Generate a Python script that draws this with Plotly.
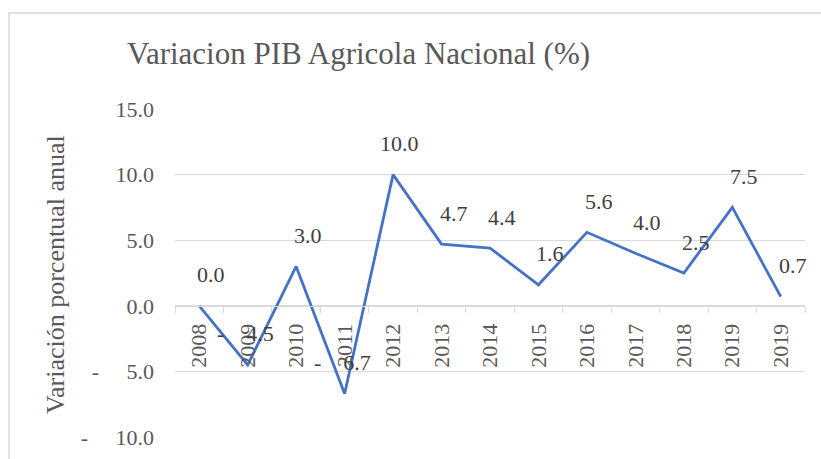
import plotly.graph_objects as go

years = ["2008", "2009", "2010", "2011", "2012", "2013", "2014",
         "2015", "2016", "2017", "2018", "2019", "2019"]
values = [0.0, -4.5, 3.0, -6.7, 10.0, 4.7, 4.4, 1.6, 5.6, 4.0, 2.5, 7.5, 0.7]
y_ticks = [-10, -5, 0, 5, 10, 15]

NB = "\u00a0"
FONT = "Liberation Serif, Tinos, Times New Roman, Times, DejaVu Serif, serif"
GRID = "#D9D9D9"


def acc_fmt(v, pad):
    if v < 0:
        return "-" + NB * pad + f"{abs(v):.1f}"
    return f"{v:.1f}"


xs = list(range(len(years)))

fig = go.Figure()
fig.add_trace(go.Scatter(
    x=xs, y=values, mode="lines",
    line=dict(color="#4472C4", width=2.8),
    hoverinfo="skip", showlegend=False,
))

for x, v in zip(xs, values):
    fig.add_annotation(
        x=x, y=v, text=acc_fmt(v, 4), showarrow=False,
        xanchor="right", yanchor="middle", xshift=28, yshift=31,
        font=dict(family=FONT, size=22, color="#404040"),
    )

fig.add_annotation(
    xref="paper", yref="paper", x=-0.189, y=0.497,
    text="Variación porcentual anual", textangle=-90, showarrow=False,
    xanchor="center", yanchor="middle",
    font=dict(family=FONT, size=26, color="#595959"),
)

# chart border (top & left visible)
fig.add_shape(type="rect", xref="paper", yref="paper",
              x0=-0.2635, y0=-0.3, x1=1.2, y1=1.2927,
              line=dict(color=GRID, width=1.5), fillcolor="rgba(0,0,0,0)",
              layer="below")

ymin, ymax = -10, 15
fig.update_layout(
    width=821, height=459,
    margin=dict(l=175, r=16, t=109, b=22, autoexpand=False),
    paper_bgcolor="white", plot_bgcolor="white",
    font=dict(family=FONT),
    title=dict(text="Variacion PIB Agricola Nacional (%)",
               font=dict(family=FONT, size=31, color="#595959"),
               xref="container", yref="container",
               x=358.5 / 821, xanchor="center",
               y=1 - 53 / 459, yanchor="middle"),
    xaxis=dict(
        range=[-0.5, len(years) - 0.5],
        tickvals=xs, ticktext=years, tickangle=-90,
        ticks="", showgrid=False, zeroline=False,
        showline=True, linecolor=GRID, linewidth=1.3,
        anchor="free", position=(0 - ymin) / (ymax - ymin),
        automargin=False,
        tickfont=dict(family=FONT, size=22, color="#595959"),
        ticklabelstandoff=8,
        minor=dict(tickvals=[i - 0.5 for i in range(len(years) + 1)],
                   ticks="outside", ticklen=6, tickcolor=GRID,
                   tickwidth=1.3, showgrid=False),
    ),
    yaxis=dict(
        range=[ymin, ymax],
        tickvals=y_ticks,
        ticktext=[acc_fmt(v, 5) for v in y_ticks],
        showgrid=True, gridcolor=GRID, gridwidth=1.3,
        zeroline=False, showline=False, ticks="",
        automargin=False,
        tickfont=dict(family=FONT, size=22, color="#595959"),
        ticklabelstandoff=20,
    ),
)

fig.write_html("out.html",
               config={"displayModeBar": False},
               post_script="document.body.style.margin='0';")
